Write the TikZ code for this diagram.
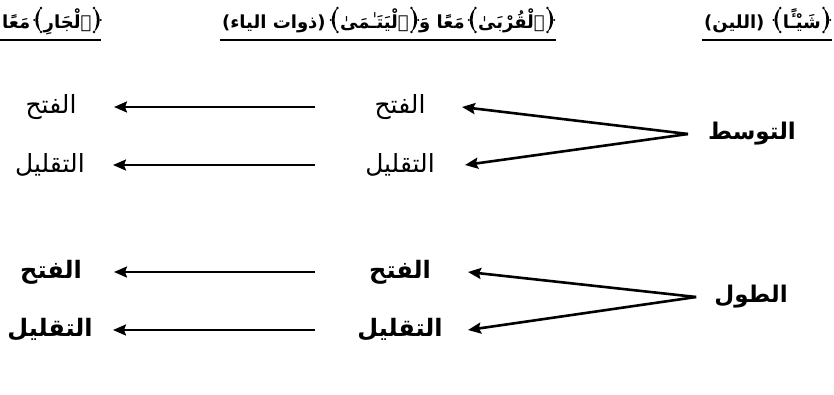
\documentclass[tikz,border=0pt]{standalone}
\usepackage{fontspec}
\usetikzlibrary{arrows.meta}
\TeXXeTstate=1
\newfontfamily\arabicfont[Script=Arabic]{DejaVu Sans}
\newcommand{\ar}[1]{{\arabicfont\beginR #1\endR}}
\tikzset{
  x=1pt, y=-1pt,
  % ornate Quranic bracket; as drawn it closes on the right, xscale=-1 gives the left one
  ornate/.pic={
    \fill (-2.5,-12) .. controls (5,-6) and (5,6) .. (-2.5,12)
          .. controls (1.2,5) and (1.2,-5) .. cycle;
    \fill (-2.5,-12) circle (1.4pt) (-2.5,12) circle (1.4pt) (4.2,0) circle (1.2pt);
  },
  seg/.style={inner sep=0pt, anchor=base east, font=\bfseries\fontsize{18}{21}\selectfont},
  word/.style={inner sep=0pt, font=\fontsize{25}{28}\selectfont},
  boldword/.style={inner sep=0pt, font=\bfseries\fontsize{24}{28}\selectfont},
  branch/.style={inner sep=0pt, font=\bfseries\fontsize{23}{26}\selectfont},
  flow/.style={line width=2.2pt, -{Stealth[length=13pt,width=11pt,inset=2pt]}},
  fork/.style={line width=2.6pt, -{Stealth[length=13pt,width=11pt,inset=2pt]}},
  rule/.style={line width=1.3pt}
}
\begin{document}
\begin{tikzpicture}
\useasboundingbox (0,0) rectangle (834,394);

% heading, left column (laid out from its left end)
\node[seg, anchor=base west] (hl2) at (2,28) {\ar{مَعًا}};
\pic[xscale=-1] at ([xshift=8pt,yshift=8pt]hl2.base east) {ornate};
\node[seg, anchor=base west] (hl1) at ([xshift=13pt]hl2.base east) {\ar{ٱلْجَارِ}};
\pic at ([xshift=5pt,yshift=8pt]hl1.base east) {ornate};
\coordinate (uL) at (0,40);
\draw[rule] (uL) -- ([xshift=9pt]uL -| hl1.east);

% heading, middle column
\pic at (550,20) {ornate};
\node[seg] (hm1) at (545,28) {\ar{ٱلْقُرْبَىٰ}};
\pic[xscale=-1] at ([xshift=-5pt,yshift=8pt]hm1.base west) {ornate};
\node[seg] (hm2) at ([xshift=-13pt]hm1.base west) {\ar{مَعًا وَ}};
\pic at ([xshift=-5pt,yshift=8pt]hm2.base west) {ornate};
\node[seg] (hm3) at ([xshift=-10pt]hm2.base west) {\ar{ٱلْيَتَـٰمَىٰ}};
\pic[xscale=-1] at ([xshift=-5pt,yshift=8pt]hm3.base west) {ornate};
\node[seg] (hm4) at ([xshift=-14pt]hm3.base west) {\ar{(ذوات الياء)}};
\coordinate (uM) at (556,40);
\draw[rule] ([xshift=-2pt]uM -| hm4.west) -- (uM);

% heading, right column
\pic at (826,20) {ornate};
\node[seg] (hr1) at (821,28) {\ar{شَيْـًٔا}};
\pic[xscale=-1] at ([xshift=-5pt,yshift=8pt]hr1.base west) {ornate};
\node[seg] (hr2) at ([xshift=-18pt]hr1.base west) {\ar{(اللين)}};
\coordinate (uR) at (832,40);
\draw[rule] ([xshift=-2pt]uR -| hr2.west) -- (uR);

% first group
\node[word] (a1) at (51,107) {\ar{الفتح}};
\node[word] (a2) at (50,165) {\ar{التقليل}};
\node[word] (b1) at (400,107) {\ar{الفتح}};
\node[word] (b2) at (400,165) {\ar{التقليل}};
\node[branch] (m1) at (752,134) {\ar{التوسط}};

% second group
\node[boldword] (a3) at (51,272) {\ar{الفتح}};
\node[boldword] (a4) at (50,330) {\ar{التقليل}};
\node[boldword] (b3) at (400,272) {\ar{الفتح}};
\node[boldword] (b4) at (400,330) {\ar{التقليل}};
\node[branch] (m2) at (751,297) {\ar{الطول}};

% horizontal connectors
\foreach \i in {1,2,3,4}
  \draw[flow, shorten <=85pt, shorten >=63pt] (b\i.center) -- (a\i.center);

% forks
\coordinate (v1) at ([xshift=-20pt]m1.west);
\coordinate (v2) at ([xshift=-18pt]m2.west);
\draw[fork] (v1) -- ([xshift=62pt]b1.center);
\draw[fork] (v1) -- ([xshift=65pt]b2.center);
\draw[fork] (v2) -- ([xshift=68pt]b3.center);
\draw[fork] (v2) -- ([xshift=68pt]b4.center);
\end{tikzpicture}
\end{document}
